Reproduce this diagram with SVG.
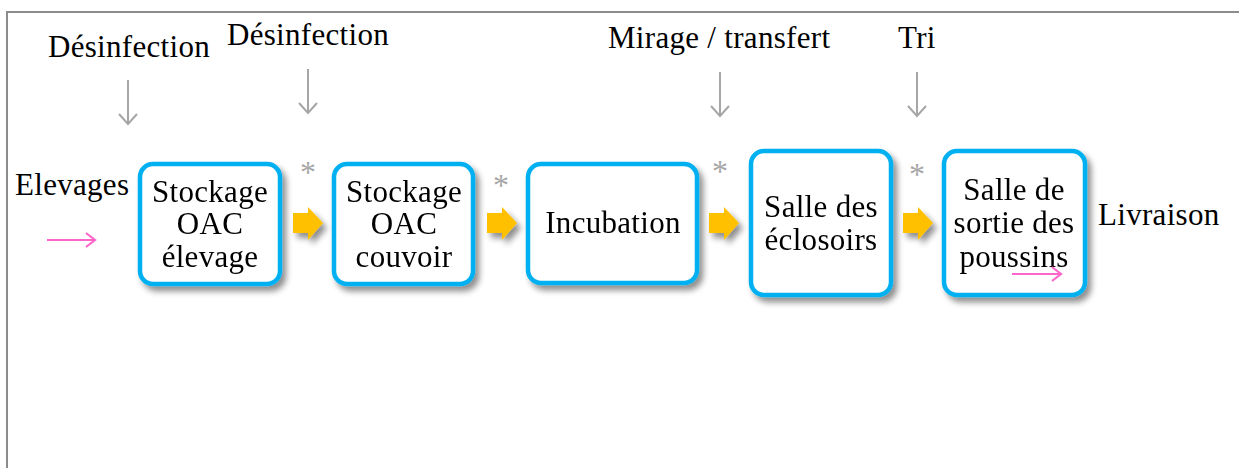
<svg xmlns="http://www.w3.org/2000/svg" width="1239" height="468" viewBox="0 0 1239 468">
<style>
text{font-family:"Liberation Serif","Times New Roman",serif;font-size:31px;letter-spacing:0.3px;fill:#000}
.box{fill:#fff;stroke:#00B0F0;stroke-width:4.5}
.c{text-anchor:middle}
.gray{stroke:#A6A6A6;stroke-width:2;fill:none}
.pink{stroke:#FF66CC;stroke-width:2.2;fill:none}
.ast{fill:#A6A6A6;font-size:32px;letter-spacing:0;text-anchor:middle}
</style>
<defs>
<filter id="sh" x="-20%" y="-20%" width="150%" height="150%">
<feGaussianBlur in="SourceAlpha" stdDeviation="3"/>
<feOffset dx="4" dy="5" result="b"/>
<feComponentTransfer><feFuncA type="linear" slope="0.45"/></feComponentTransfer>
<feMerge><feMergeNode/><feMergeNode in="SourceGraphic"/></feMerge>
</filter>
<path id="oarr" d="M0,6 H15 V0 L30,16 L15,33 V26 H0 Z" fill="#FFC000"/>
</defs>
<path d="M7,468 V12 H1239" fill="none" stroke="#8C8C8C" stroke-width="2"/>

<g id="labels">
<text x="48" y="57">Désinfection</text>
<text x="227" y="45">Désinfection</text>
<text x="608" y="48">Mirage / transfert</text>
<text x="898" y="48">Tri</text>
<text x="15" y="195">Elevages</text>
<text x="1098" y="225">Livraison</text>
</g>

<g id="n1" filter="url(#sh)">
<rect class="box" x="140" y="164" width="140" height="120" rx="13"/>
<text class="c" x="210" y="202">Stockage</text>
<text class="c" x="210" y="234">OAC</text>
<text class="c" x="210" y="267">élevage</text>
</g>
<g id="n2" filter="url(#sh)">
<rect class="box" x="334" y="164" width="139" height="120" rx="13"/>
<text class="c" x="404" y="202">Stockage</text>
<text class="c" x="404" y="234">OAC</text>
<text class="c" x="404" y="267">couvoir</text>
</g>
<g id="n3" filter="url(#sh)">
<rect class="box" x="528" y="164" width="169" height="119" rx="13"/>
<text class="c" x="613" y="233">Incubation</text>
</g>
<g id="n4" filter="url(#sh)">
<rect class="box" x="751" y="151" width="140" height="144" rx="13"/>
<text class="c" x="821" y="217">Salle des</text>
<text class="c" x="821" y="250">éclosoirs</text>
</g>
<g id="n5" filter="url(#sh)">
<rect class="box" x="944" y="151" width="141" height="144" rx="13"/>
<text class="c" x="1014" y="200">Salle de</text>
<text class="c" x="1014" y="233">sortie des</text>
<text class="c" x="1014" y="267">poussins</text>
</g>

<g id="connectors">
<g filter="url(#sh)">
<use href="#oarr" x="293" y="207"/>
<use href="#oarr" x="487" y="207"/>
<use href="#oarr" x="709" y="207"/>
<use href="#oarr" x="903" y="207"/>
</g>
<path class="gray" d="M128,80 V124 M119,114 L128,124 L137,114"/>
<path class="gray" d="M308,69 V113 M299,103 L308,113 L317,103"/>
<path class="gray" d="M720,72 V116 M711,106 L720,116 L729,106"/>
<path class="gray" d="M917,72 V116 M908,106 L917,116 L926,106"/>
<path class="pink" d="M47,240 H95 M86,233 L95,240 L86,247"/>
<path class="pink" d="M1012,274 H1061 M1052,267 L1061,274 L1052,281"/>
<text class="ast" x="308" y="183">*</text>
<text class="ast" x="501" y="196">*</text>
<text class="ast" x="720" y="182">*</text>
<text class="ast" x="917" y="185">*</text>
</g>
</svg>
